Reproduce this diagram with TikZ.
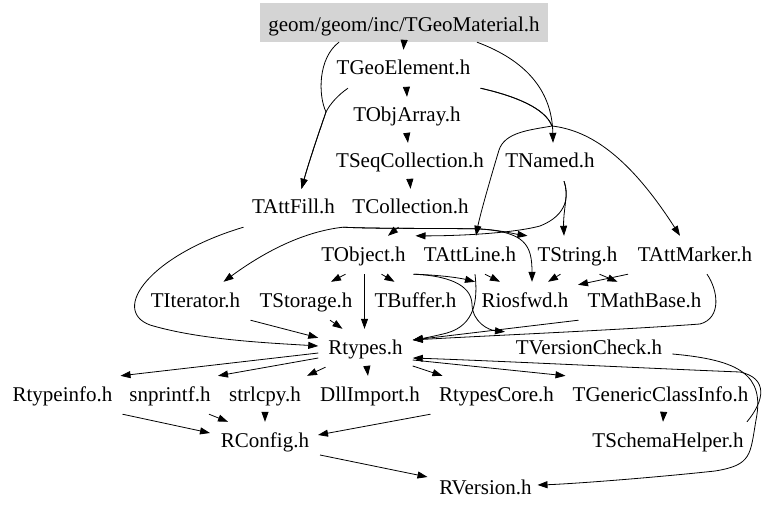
\documentclass[tikz,border=0pt]{standalone}
\usepackage{fontspec}
\setmainfont{Liberation Serif}
\usetikzlibrary{arrows.meta}
\begin{document}
\begin{tikzpicture}[x=1pt,y=-1pt,
  lbl/.style={anchor=base, inner xsep=10pt, inner ysep=10pt, text height=15pt, text depth=3pt, font=\fontsize{21}{24}\selectfont},
  dep/.style={draw=black, line width=0.8pt, -{Triangle[length=10pt,width=7pt]}},
]
\useasboundingbox (0,0) rectangle (768,513);
% nodes
\node[lbl, text height=19pt, text depth=0pt, minimum width=288pt, inner xsep=0pt, fill=black!17] (mat) at (404,32) {geom/geom/inc/TGeoMaterial.h};
\node[lbl] (elem) at (403.5,75) {TGeoElement.h};
\node[lbl] (objarray) at (407,122) {TObjArray.h};
\node[lbl] (seqcoll) at (410,168) {TSeqCollection.h};
\node[lbl] (named) at (550,168) {TNamed.h};
\node[lbl] (attfill) at (293.5,214) {TAttFill.h};
\node[lbl] (collection) at (410.5,214) {TCollection.h};
\node[lbl] (object) at (363.5,261) {TObject.h};
\node[lbl] (attline) at (470,261) {TAttLine.h};
\node[lbl] (tstring) at (577.5,261) {TString.h};
\node[lbl] (attmarker) at (695,261) {TAttMarker.h};
\node[lbl] (iterator) at (195.5,307) {TIterator.h};
\node[lbl] (storage) at (306,307) {TStorage.h};
\node[lbl] (buffer) at (415.5,307) {TBuffer.h};
\node[lbl] (riosfwd) at (525,307) {Riosfwd.h};
\node[lbl] (mathbase) at (644.5,307) {TMathBase.h};
\node[lbl] (rtypes) at (365.5,354) {Rtypes.h};
\node[lbl] (versioncheck) at (589,354) {TVersionCheck.h};
\node[lbl] (rtypeinfo) at (62.5,401) {Rtypeinfo.h};
\node[lbl] (snprintf) at (170,401) {snprintf.h};
\node[lbl] (strlcpy) at (265,401) {strlcpy.h};
\node[lbl] (dllimport) at (370,401) {DllImport.h};
\node[lbl] (rtypescore) at (496.5,401) {RtypesCore.h};
\node[lbl] (tgci) at (660.5,401) {TGenericClassInfo.h};
\node[lbl] (schema) at (668,447) {TSchemaHelper.h};
\node[lbl] (rconfig) at (265,447) {RConfig.h};
\node[lbl] (rversion) at (485.5,494) {RVersion.h};
% edges
\draw[dep] (mat.south) -- (elem.north);
\draw[dep] ([xshift=-65pt]mat.south) .. controls (318,58) and (318,95) .. (326,112) .. controls (318,135) and (308,165) .. ([xshift=8pt]attfill.north);
\draw[dep] ([xshift=-55.5pt]elem.south) .. controls (338,95) and (330,104) .. (326,112) .. controls (318,135) and (308,165) .. ([xshift=8pt]attfill.north);
\draw[dep] ([xshift=73pt]mat.south) .. controls (525,60) and (552,90) .. ([xshift=3pt]named.north);
\draw[dep] ([xshift=77pt]elem.south) .. controls (515,96) and (545,108) .. (552,126) .. controls (530,130) and (505,132) .. (499,150) .. controls (490,180) and (480,215) .. ([xshift=6pt]attline.north);
\draw[dep] ([xshift=77pt]elem.south) .. controls (515,96) and (545,108) .. (552,126) .. controls (585,130) and (625,150) .. ([xshift=-15pt]attmarker.north);
\draw[dep] ([xshift=3pt]elem.south) -- (objarray.north);
\draw[dep] (objarray.south) -- ([xshift=-2pt]seqcoll.north);
\draw[dep] (seqcoll.south) -- (collection.north);
\draw[dep] ([xshift=-12pt]collection.south) -- ([xshift=24.5pt]object.north);
\draw[dep] ([xshift=-67.5pt]collection.south) .. controls (300,232) and (260,255) .. ([xshift=28pt]iterator.north);
\draw[dep] ([xshift=-67.5pt]collection.south) .. controls (380,229) and (450,228) .. (480,229) .. controls (500,230) and (515,234) .. ([xshift=-50pt]tstring.north);
\draw[dep] ([xshift=-67.5pt]collection.south) .. controls (380,229) and (450,228) .. (480,229) .. controls (525,232) and (532,245) .. ([xshift=7pt]riosfwd.north);
\draw[dep] ([xshift=14pt]named.south) .. controls (569,195) and (563,210) .. ([xshift=-13.5pt]tstring.north);
\draw[dep] ([xshift=14pt]named.south) .. controls (569,195) and (568,215) .. (540,226) .. controls (510,234) and (450,236) .. ([xshift=52pt]object.north);
\draw[dep] ([xshift=-50pt]attfill.south) .. controls (150,255) and (110,310) .. (150,325) .. controls (200,340) and (270,343) .. ([yshift=2pt]rtypes.west);
\draw[dep] ([xshift=55pt]iterator.south) -- ([yshift=-9pt]rtypes.north west);
\draw[dep] ([xshift=24pt]storage.south) -- ([xshift=-23pt]rtypes.north);
\draw[dep] ([xshift=1pt]object.south) -- ([xshift=-1pt]rtypes.north);
\draw[dep] ([xshift=-18pt]object.south) -- ([xshift=25pt]storage.north);
\draw[dep] ([xshift=18pt]object.south) -- ([xshift=-21pt]buffer.north);
\draw[dep] ([xshift=50pt]object.south) .. controls (440,275) and (460,278) .. ([xshift=-50pt]riosfwd.north);
\draw[dep] ([xshift=50pt]object.south) .. controls (455,276) and (472,288) .. (472,305) .. controls (473,322) and (488,330) .. ([xshift=-84pt,yshift=-3pt]versioncheck.north);
\draw[dep] ([xshift=5pt]attline.south) .. controls (478,300) and (475,325) .. (447,333) .. controls (435,336) and (425,338) .. ([yshift=8pt]rtypes.east);
\draw[dep] ([xshift=-66pt]mathbase.south) -- ([yshift=8pt]rtypes.east);
\draw[dep] ([xshift=12pt]attmarker.south) .. controls (718,290) and (722,318) .. (700,324) .. controls (620,330) and (480,336) .. ([yshift=8pt]rtypes.east);
\draw[dep] ([xshift=15pt]attline.south) -- ([xshift=-25pt]riosfwd.north);
\draw[dep] ([xshift=-17pt]tstring.south) -- ([xshift=23pt]riosfwd.north);
\draw[dep] ([xshift=-67pt]attmarker.south) -- ([xshift=53pt,yshift=-3pt]riosfwd.north);
\draw[dep] ([xshift=22pt]tstring.south) -- ([xshift=-27pt]mathbase.north);
\draw[dep] ([yshift=-6pt]versioncheck.east) .. controls (740,360) and (765,375) .. (756,420) .. controls (750,455) and (752,465) .. (715,471) .. controls (650,478) and (570,484) .. ([xshift=52pt,yshift=3pt]rversion.center);
\draw[dep] ([xshift=79pt]schema.north) .. controls (765,400) and (768,378) .. (740,372) .. controls (640,368) and (500,361) .. ([yshift=-10pt]rtypes.east);
\draw[dep] ([yshift=-12pt]rtypes.east) -- ([xshift=-95pt]tgci.north);
\draw[dep] ([yshift=-18pt]rtypes.east) -- ([xshift=-54pt]rtypescore.north);
\draw[dep] ([xshift=1.5pt]rtypes.south) -- ([xshift=-2pt]dllimport.north);
\draw[dep] ([xshift=-40pt]rtypes.south) -- ([xshift=42pt]strlcpy.north);
\draw[dep] ([yshift=-10pt]rtypes.west) -- ([xshift=48pt]snprintf.north);
\draw[dep] ([yshift=-5pt]rtypes.west) -- ([xshift=58pt]rtypeinfo.north);
\draw[dep] ([xshift=60pt]rtypeinfo.south) -- ([xshift=-55pt,yshift=8pt]rconfig.center);
\draw[dep] ([xshift=39pt]snprintf.south) -- ([xshift=-37pt]rconfig.north);
\draw[dep] (strlcpy.south) -- (rconfig.north);
\draw[dep] ([xshift=-66pt]rtypescore.south) -- ([xshift=53pt,yshift=6pt]rconfig.center);
\draw[dep] ([xshift=55pt,yshift=-14pt]rconfig.center) -- ([xshift=-58pt,yshift=11pt]rversion.center);
\draw[dep] ([xshift=3pt]tgci.south) -- ([xshift=-5pt]schema.north);
\end{tikzpicture}
\end{document}
